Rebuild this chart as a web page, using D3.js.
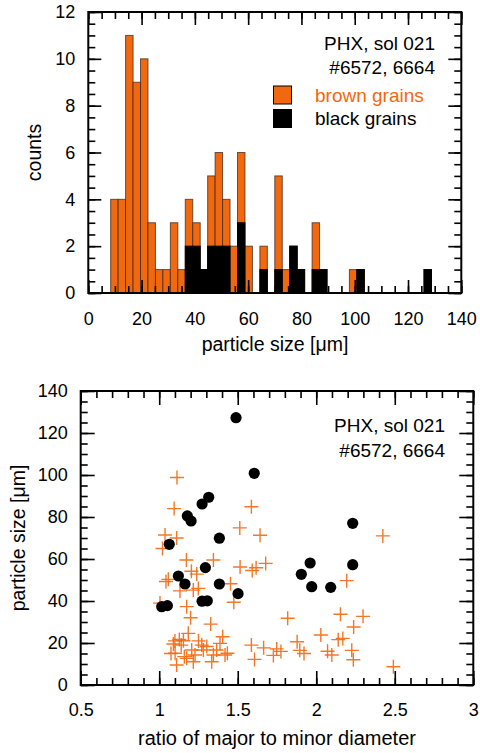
<!DOCTYPE html>
<html><head><meta charset="utf-8">
<script src="https://cdn.jsdelivr.net/npm/d3@7"></script>
<style>
body{margin:0;background:#fff}
svg{display:block}
text{font-family:"Liberation Sans",Arial,Helvetica,sans-serif;fill:#000}
</style>
</head><body>
<svg id="c" width="480" height="753"></svg>
<script>
// ---------- data: histogram ----------
const binWidth = 2.8; // µm
const binStart = [8.4, 11.2, 14.0, 16.8, 19.6, 22.4, 25.2, 28.0, 30.8, 33.6,
                  36.4, 39.2, 42.0, 44.8, 47.6, 50.4, 53.2, 56.0, 58.8, 64.4,
                  70.0, 72.8, 75.6, 78.4, 84.0, 86.8, 98.0, 100.8, 126.0];
const brownCounts = [4, 4, 11, 9, 10, 3, 1, 1, 3, 1,
                     2, 1, 0, 3, 4, 2, 2, 3, 2, 1,
                     4, 1, 0, 0, 2, 0, 1, 0, 0];
const blackCounts = [0, 0, 0, 0, 0, 0, 0, 0, 0, 0,
                     2, 2, 1, 2, 2, 2, 0, 3, 0, 1,
                     1, 0, 2, 1, 1, 1, 0, 1, 1];
const countTicks = [0, 2, 4, 6, 8, 10, 12];
const sizeTicks = [0, 20, 40, 60, 80, 100, 120, 140];

// ---------- data: scatter ----------
const ratioTicks = [0.5, 1, 1.5, 2, 2.5, 3];
const particleTicks = [0, 20, 40, 60, 80, 100, 120, 140];
const blackRatio = [1.489, 1.605, 1.315, 1.273, 1.179, 1.203, 1.383, 2.232, 1.064, 1.294,
                    1.122, 1.164, 1.383, 1.502, 1.273, 1.306, 1.961, 1.905, 1.971, 2.092,
                    2.232, 1.016, 1.052];
const blackSize  = [127.3, 100.8, 89.4, 86.2, 80.5, 78.1, 69.9, 77.0, 67.0, 55.9,
                    51.9, 48.1, 48.1, 43.5, 39.9, 40.1, 58.1, 52.7, 46.8, 46.5,
                    57.3, 37.3, 37.8];
const brownRatio = [1.113, 1.095, 1.587, 1.513, 1.642, 2.424, 1.037, 1.111, 1.021, 1.345,
                    1.173, 1.515, 1.592, 1.617, 1.678, 1.205, 1.239, 1.058, 1.043, 2.194,
                    1.454, 1.217, 1.132, 1.249, 1.475, 1.005, 1.175, 1.200, 1.328, 1.818,
                    2.154, 2.298, 2.238, 2.029, 2.140, 2.169, 1.878, 1.587, 1.665, 1.748,
                    1.775, 1.727, 1.895, 1.922, 2.072, 2.099, 2.226, 2.236, 1.607, 2.491,
                    1.090, 1.128, 1.154, 1.185, 1.101, 1.111, 1.175, 1.207, 1.217, 1.271,
                    1.303, 1.334, 1.366, 1.387, 1.404, 1.419, 1.434, 1.281, 1.228, 1.345,
                    1.075, 1.140, 1.160, 1.250, 1.100];
const brownSize  = [98.8, 84.0, 84.9, 74.8, 71.3, 71.0, 71.4, 70.0, 65.0, 59.5,
                    59.5, 56.2, 54.5, 55.8, 57.9, 54.2, 52.8, 50.3, 49.3, 49.7,
                    48.2, 45.2, 44.8, 46.0, 39.4, 39.0, 37.3, 32.0, 29.0, 31.8,
                    33.7, 32.7, 27.6, 23.8, 21.6, 22.2, 20.6, 19.0, 17.7, 17.2,
                    16.0, 14.1, 16.5, 15.0, 16.1, 14.3, 16.5, 12.0, 12.2, 8.7,
                    19.5, 21.7, 21.1, 24.6, 15.1, 9.5, 12.7, 16.7, 11.1, 19.0,
                    18.3, 11.1, 16.7, 19.8, 23.0, 14.3, 15.1, 16.7, 14.3, 14.3,
                    15.0, 19.0, 13.5, 21.0, 21.0];

// ---------- styles ----------
const ORANGE = "#f2680e";
const svg = d3.select("#c");
const FONT_TICK = 18;

function frame(g, x, y, opt) {
  const [x0, x1] = x.range();
  const [y0, y1] = y.range(); // y0 bottom, y1 top
  const axes = [
    {gen: d3.axisBottom, s: x, t: `translate(0,${y0})`, maj: opt.xMajor, min: x.ticks(opt.xMinorN), lab: true, pad: opt.xPad},
    {gen: d3.axisTop, s: x, t: `translate(0,${y1})`, maj: opt.xMajor, min: x.ticks(opt.xMinorN), lab: false},
    {gen: d3.axisLeft, s: y, t: `translate(${x0},0)`, maj: opt.yMajor, min: y.ticks(opt.yMinorN), lab: true, pad: opt.yPad},
    {gen: d3.axisRight, s: y, t: `translate(${x1},0)`, maj: opt.yMajor, min: y.ticks(opt.yMinorN), lab: false}
  ];
  axes.forEach(a => {
    const gm = g.append("g").attr("transform", a.t)
      .call(a.gen(a.s).tickValues(a.min).tickSize(-opt.minorLen).tickFormat(""));
    gm.select(".domain").remove();
    const gM = g.append("g").attr("transform", a.t)
      .call(a.gen(a.s).tickValues(a.maj).tickSize(-opt.majorLen)
        .tickPadding(a.lab ? a.pad : 0)
        .tickFormat(a.lab ? d3.format("~g") : ""));
    gM.select(".domain").remove();
    [gm, gM].forEach(gg => gg.selectAll("line").attr("stroke", "#000").attr("stroke-width", 1.6));
    gM.selectAll("text").attr("font-size", FONT_TICK).attr("font-family", null).attr("fill", "#000");
  });
  g.append("rect").attr("x", x0).attr("y", y1).attr("width", x1 - x0).attr("height", y0 - y1)
    .attr("fill", "none").attr("stroke", "#000").attr("stroke-width", 2);
}

// ---------- top: histogram ----------
const xTop = d3.scaleLinear().domain([0, 140]).range([88.3, 461.3]);
const yTop = d3.scaleLinear().domain([0, 12]).range([293, 12]);
const gTop = svg.append("g");

const bars = binStart.map((s, i) => ({s, brown: brownCounts[i], black: blackCounts[i]}));
gTop.selectAll("rect.tot").data(bars.filter(d => d.brown + d.black > 0)).join("rect")
  .attr("class", "tot")
  .attr("x", d => xTop(d.s)).attr("width", d => xTop(d.s + binWidth) - xTop(d.s))
  .attr("y", d => yTop(d.brown + d.black)).attr("height", d => yTop(0) - yTop(d.brown + d.black))
  .attr("fill", ORANGE).attr("stroke", "#3a2a20").attr("stroke-opacity", 0.75).attr("stroke-width", 1);
gTop.selectAll("rect.blk").data(bars.filter(d => d.black > 0)).join("rect")
  .attr("class", "blk")
  .attr("x", d => xTop(d.s)).attr("width", d => xTop(d.s + binWidth) - xTop(d.s))
  .attr("y", d => yTop(d.black)).attr("height", d => yTop(0) - yTop(d.black))
  .attr("fill", "#000").attr("stroke", "#000").attr("stroke-width", 1);

frame(gTop, xTop, yTop, {xMajor: sizeTicks, yMajor: countTicks, xMinorN: 28, yMinorN: 24,
  majorLen: 13, minorLen: 7, xPad: 19, yPad: 13});

gTop.append("text").attr("x", 435).attr("y", 50).attr("text-anchor", "end").attr("font-size", 19).text("PHX, sol 021");
gTop.append("text").attr("x", 435).attr("y", 73.5).attr("text-anchor", "end").attr("font-size", 19).text("#6572, 6664");
gTop.append("rect").attr("x", 273.5).attr("y", 86).attr("width", 18).attr("height", 18)
  .attr("fill", ORANGE).attr("stroke", "#000").attr("stroke-width", 1);
gTop.append("rect").attr("x", 273.5).attr("y", 109.5).attr("width", 18).attr("height", 18)
  .attr("fill", "#000").attr("stroke", "#000").attr("stroke-width", 1);
gTop.append("text").attr("x", 315).attr("y", 101.5).attr("font-size", 19).style("fill", ORANGE).text("brown grains");
gTop.append("text").attr("x", 315).attr("y", 125).attr("font-size", 19).text("black grains");
gTop.append("text").attr("x", 275).attr("y", 351).attr("text-anchor", "middle").attr("font-size", 19.5).text("particle size [μm]");
gTop.append("text").attr("transform", "translate(41,152.5) rotate(-90)").attr("text-anchor", "middle").attr("font-size", 19.5).text("counts");

// ---------- bottom: scatter ----------
const xBot = d3.scaleLinear().domain([0.5, 3]).range([80.7, 473.3]);
const yBot = d3.scaleLinear().domain([0, 140]).range([685, 391]);
const gBot = svg.append("g");

const brownPts = brownRatio.map((r, i) => ({r, s: brownSize[i]}));
const blackPts = blackRatio.map((r, i) => ({r, s: blackSize[i]}));

gBot.selectAll("path.cr").data(brownPts).join("path")
  .attr("class", "cr")
  .attr("transform", d => `translate(${xBot(d.r)},${yBot(d.s)})`)
  .attr("d", "M-7,0H7M0,-7V7")
  .attr("stroke", ORANGE).attr("stroke-width", 1.4).attr("stroke-opacity", 0.9).attr("fill", "none");
gBot.selectAll("circle.bk").data(blackPts).join("circle")
  .attr("class", "bk")
  .attr("cx", d => xBot(d.r)).attr("cy", d => yBot(d.s)).attr("r", 5.6)
  .attr("fill", "#000");

frame(gBot, xBot, yBot, {xMajor: ratioTicks, yMajor: particleTicks, xMinorN: 25, yMinorN: 28,
  majorLen: 14, minorLen: 7, xPad: 18, yPad: 13});

gBot.append("text").attr("x", 445).attr("y", 432).attr("text-anchor", "end").attr("font-size", 19).text("PHX, sol 021");
gBot.append("text").attr("x", 445).attr("y", 457).attr("text-anchor", "end").attr("font-size", 19).text("#6572, 6664");
gBot.append("text").attr("x", 277).attr("y", 745).attr("text-anchor", "middle").attr("font-size", 20).text("ratio of major to minor diameter");
gBot.append("text").attr("transform", "translate(25,538) rotate(-90)").attr("text-anchor", "middle").attr("font-size", 19.5).text("particle size [μm]");
</script>
</body></html>
